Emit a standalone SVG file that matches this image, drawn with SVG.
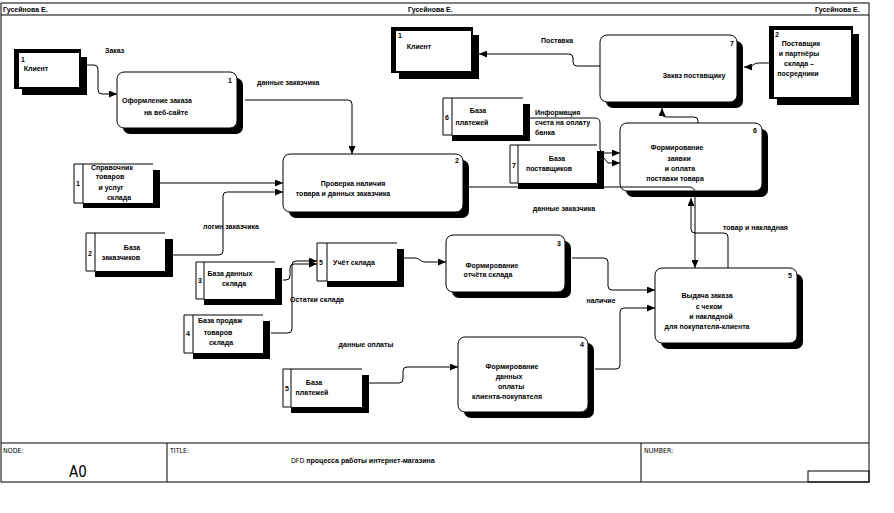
<svg xmlns="http://www.w3.org/2000/svg" width="894" height="513" viewBox="0 0 894 513">
<style>
.t{font-family:"Liberation Sans",Arial,sans-serif;font-size:7px;font-weight:bold;fill:#000}
.m{text-anchor:middle}
.n{font-family:"DejaVu Sans Condensed","Liberation Sans",Arial,sans-serif;font-size:7px;fill:#000}
.ln{fill:none;stroke:#000;stroke-width:1}
.bx{fill:#fff;stroke:#000;stroke-width:1}
.ex{fill:#fff;stroke:#000;stroke-width:2}
.sh{fill:#000}
.wh{fill:#fff}
</style>
<defs>
<marker id="ar" markerUnits="userSpaceOnUse" markerWidth="8" markerHeight="7" refX="8" refY="3.5" orient="auto">
<path d="M0,0 L8,3.5 L0,7 z" fill="#000"/>
</marker>
</defs>
<rect width="894" height="513" fill="#fff"/>
<g id="frame">
<rect x="1" y="3" width="868" height="479" class="ln"/>
<line x1="1" y1="15" x2="869" y2="15" class="ln"/>
<line x1="1" y1="443" x2="869" y2="443" class="ln"/>
<line x1="167" y1="443" x2="167" y2="482" class="ln"/>
<line x1="641" y1="443" x2="641" y2="482" class="ln"/>
<rect x="808" y="471" width="61" height="11" class="ln"/>
<text class="t" x="3" y="12">Гусейнова Е.</text>
<text class="t" x="408" y="12">Гусейнова Е.</text>
<text class="t" x="815" y="12">Гусейнова Е.</text>
<text class="n" x="3" y="453">NODE:</text>
<text class="n" x="170" y="453">TITLE:</text>
<text class="n" x="644" y="453">NUMBER:</text>
<text x="78" y="477" text-anchor="middle" style="font-family:'DejaVu Sans Condensed','Liberation Sans',sans-serif;font-size:15px;fill:#000">A0</text>
<text class="n" x="291" y="463">DFD <tspan font-weight="bold" font-family="Liberation Sans, sans-serif">процесса работы интернет-магазина</tspan></text>
</g>
<g id="ext1">
<rect class="sh" x="22" y="57" width="65" height="38"/>
<rect class="ex" x="15" y="50" width="65" height="38"/>
<rect class="sh" x="15" y="50" width="4" height="38"/>
<rect class="sh" x="15" y="50" width="65" height="3"/>
<text class="t" x="21" y="62">1</text>
<text class="t m" x="36" y="71">Клиент</text>
</g>
<g id="ext1b">
<rect class="sh" x="399" y="35" width="80" height="44"/>
<rect class="ex" x="392" y="28" width="80" height="44"/>
<rect class="sh" x="392" y="28" width="4" height="44"/>
<rect class="sh" x="392" y="28" width="80" height="3"/>
<text class="t" x="398" y="38">1</text>
<text class="t m" x="419" y="49">Клиент</text>
</g>
<g id="ext2">
<rect class="sh" x="777" y="34" width="82" height="71"/>
<rect class="ex" x="770" y="27" width="82" height="71"/>
<rect class="sh" x="770" y="27" width="4" height="71"/>
<rect class="sh" x="770" y="27" width="82" height="3"/>
<text class="t" x="775" y="37">2</text>
<text class="t m" x="801" y="46">Поставщик</text>
<text class="t m" x="799" y="56">и партнёры</text>
<text class="t m" x="799" y="66">склада –</text>
<text class="t m" x="798" y="76">посредники</text>
</g>
<g id="p1">
<rect class="sh" x="123" y="78" width="120" height="56" rx="7"/>
<rect class="bx" x="117" y="72" width="120" height="56" rx="7"/>
<text class="t" x="228" y="83">1</text>
<text class="t m" x="157" y="103">Оформление заказа</text>
<text class="t m" x="166" y="115">на веб-сайте</text>
</g>
<g id="p2">
<rect class="sh" x="289" y="160" width="180" height="58" rx="7"/>
<rect class="bx" x="283" y="154" width="180" height="58" rx="7"/>
<text class="t" x="455" y="163">2</text>
<text class="t m" x="353" y="186">Проверка наличия</text>
<text class="t m" x="343" y="196">товара и данных заказчика</text>
</g>
<g id="p3">
<rect class="sh" x="452" y="241" width="119" height="57" rx="7"/>
<rect class="bx" x="446" y="235" width="119" height="57" rx="7"/>
<text class="t" x="557" y="246">3</text>
<text class="t m" x="492" y="268">Формирование</text>
<text class="t m" x="488" y="277">отчёта склада</text>
</g>
<g id="p4">
<rect class="sh" x="464" y="343" width="130" height="75" rx="7"/>
<rect class="bx" x="458" y="337" width="130" height="75" rx="7"/>
<text class="t" x="580" y="347">4</text>
<text class="t m" x="512" y="369">Формирование</text>
<text class="t m" x="509" y="379">данных</text>
<text class="t m" x="511" y="389">оплаты</text>
<text class="t m" x="507" y="399">клиента-покупателя</text>
</g>
<g id="p5">
<rect class="sh" x="661" y="274" width="142" height="75" rx="7"/>
<rect class="bx" x="655" y="268" width="142" height="75" rx="7"/>
<text class="t" x="788" y="278">5</text>
<text class="t m" x="707" y="298">Выдача заказа</text>
<text class="t m" x="709" y="309">с чеком</text>
<text class="t m" x="711" y="319">и накладной</text>
<text class="t m" x="707" y="329">для покупателя-клиента</text>
</g>
<g id="p6">
<rect class="sh" x="626" y="129" width="142" height="68" rx="7"/>
<rect class="bx" x="620" y="123" width="142" height="68" rx="7"/>
<text class="t" x="753" y="133">6</text>
<text class="t m" x="677" y="150">Формирование</text>
<text class="t m" x="679" y="161">заявки</text>
<text class="t m" x="680" y="171">и оплата</text>
<text class="t m" x="675" y="181">поставки товара</text>
</g>
<g id="p7">
<rect class="sh" x="606" y="41" width="137" height="67" rx="7"/>
<rect class="bx" x="600" y="35" width="137" height="67" rx="7"/>
<text class="t" x="730" y="46">7</text>
<text class="t m" x="694" y="78">Заказ поставщику</text>
</g>
<g id="s1">
<rect class="sh" x="83" y="170" width="77" height="38"/>
<rect class="wh" x="83" y="164" width="70" height="39"/>
<path class="ln" d="M74,164 H153 M74,164 V203 H83 M83,164 V203"/>
<text class="t" x="76" y="186">1</text>
<text class="t m" x="112" y="170">Справочник</text>
<text class="t m" x="110" y="179">товаров</text>
<text class="t m" x="111" y="190">и услуг</text>
<text class="t m" x="119" y="200">склада</text>
</g>
<g id="s2">
<rect class="sh" x="95" y="239" width="78" height="38"/>
<rect class="wh" x="95" y="233" width="70" height="38"/>
<path class="ln" d="M86,233 H165 M86,233 V271 H95 M95,233 V271"/>
<text class="t" x="88" y="256">2</text>
<text class="t m" x="132" y="250">База</text>
<text class="t m" x="121" y="260">заказчиков</text>
</g>
<g id="s3">
<rect class="sh" x="204" y="268" width="78" height="37"/>
<rect class="wh" x="204" y="262" width="71" height="37"/>
<path class="ln" d="M196,262 H275 M196,262 V299 H204 M204,262 V299"/>
<text class="t" x="198" y="283">3</text>
<text class="t m" x="230" y="276">База данных</text>
<text class="t m" x="234" y="286">склада</text>
</g>
<g id="s4">
<rect class="sh" x="193" y="321" width="77" height="38"/>
<rect class="wh" x="193" y="315" width="70" height="38"/>
<path class="ln" d="M184,315 H263 M184,315 V353 H193 M193,315 V353"/>
<text class="t" x="186" y="336">4</text>
<text class="t m" x="220" y="323">База продаж</text>
<text class="t m" x="218" y="335">товаров</text>
<text class="t m" x="221" y="345">склада</text>
</g>
<g id="s5">
<rect class="sh" x="327" y="249" width="77" height="38"/>
<rect class="wh" x="327" y="243" width="70" height="38"/>
<path class="ln" d="M317,243 H397 M317,243 V281 H327 M327,243 V281"/>
<text class="t" x="319" y="265">5</text>
<text class="t m" x="354" y="265">Учёт склада</text>
</g>
<g id="s5b">
<rect class="sh" x="291" y="375" width="78" height="38"/>
<rect class="wh" x="291" y="369" width="71" height="38"/>
<path class="ln" d="M283,369 H362 M283,369 V407 H291 M291,369 V407"/>
<text class="t" x="285" y="391">5</text>
<text class="t m" x="314" y="385">База</text>
<text class="t m" x="312" y="395">платежей</text>
</g>
<g id="s6">
<rect class="sh" x="452" y="104" width="78" height="37"/>
<rect class="wh" x="452" y="98" width="71" height="37"/>
<path class="ln" d="M443,98 H523 M443,98 V135 H452 M452,98 V135"/>
<text class="t" x="445" y="120">6</text>
<text class="t m" x="478" y="113">База</text>
<text class="t m" x="472" y="125">платежей</text>
</g>
<g id="s7">
<rect class="sh" x="518" y="151" width="86" height="38"/>
<rect class="wh" x="518" y="145" width="79" height="38"/>
<path class="ln" d="M510,145 H597 M510,145 V183 H518 M518,145 V183"/>
<text class="t" x="512" y="168">7</text>
<text class="t m" x="557" y="161">База</text>
<text class="t m" x="549" y="171">поставщиков</text>
</g>
<g id="connectors">
<path class="ln" marker-end="url(#ar)" d="M87,65 H94 Q98,65 98,69 V90 Q98,94 102,94 H117"/>
<path class="ln" marker-end="url(#ar)" d="M245,100 H348 Q352,100 352,104 V154"/>
<path class="ln" marker-end="url(#ar)" d="M160,183 H283"/>
<path class="ln" marker-end="url(#ar)" d="M173,255 H219 Q223,255 223,251 V196 Q223,192 227,192 H283"/>
<path class="ln" marker-end="url(#ar)" d="M283,280 H286 Q290,280 290,276 V268 Q290,264 294,264 H317"/>
<path class="ln" marker-end="url(#ar)" d="M271,333 H288 Q292,333 292,329 V265 Q292,261 296,261 H317"/>
<path class="ln" marker-end="url(#ar)" d="M404,258 H415 Q418,258 420,260 Q422,262 425,262 H446"/>
<path class="ln" marker-end="url(#ar)" d="M572,258 H604 Q608,258 608,262 V286 Q608,290 612,290 H655"/>
<path class="ln" marker-end="url(#ar)" d="M595,369 H616 Q620,369 620,365 V312 Q620,308 624,308 H655"/>
<path class="ln" marker-end="url(#ar)" d="M369,383 H399 Q403,383 403,379 V371 Q403,367 407,367 H458"/>
<path class="ln" marker-end="url(#ar)" d="M469,187 H689 Q695,187 695,193 V268"/>
<path class="ln" marker-end="url(#ar)" d="M728,268 V237 Q728,233 724,233 H695 Q691,233 691,229 V198"/>
<path class="ln" marker-end="url(#ar)" d="M530,118 H595 Q600,118 600,123 V149 Q600,153 604,153 H620"/>
<path class="ln" marker-end="url(#ar)" d="M604,158 L608,163 H620"/>
<path class="ln" marker-end="url(#ar)" d="M698,123 V121 Q698,117 694,117 H666 Q662,117 662,113 V108"/>
<path class="ln" marker-end="url(#ar)" d="M770,63 H758 Q755,63 753,65 Q751,67 748,67 H744"/>
<path class="ln" marker-end="url(#ar)" d="M600,66 H577 Q573,66 573,62 V58 Q573,54 569,54 H479"/>
<text class="t" x="105" y="53">Заказ</text>
<text class="t" x="257" y="85">данные заказчика</text>
<text class="t m" x="231" y="229">логин заказчика</text>
<text class="t" x="290" y="302">Остатки склада</text>
<text class="t m" x="601" y="303">наличие</text>
<text class="t m" x="366" y="347">данные оплаты</text>
<text class="t" x="723" y="230">товар и накладная</text>
<text class="t m" x="564" y="211">данные заказчика</text>
<text class="t m" x="557" y="43">Поставка</text>
<text class="t" x="535" y="115">Информация</text>
<text class="t" x="535" y="125">счета на оплату</text>
<text class="t" x="535" y="135">банка</text>
</g>
</svg>
